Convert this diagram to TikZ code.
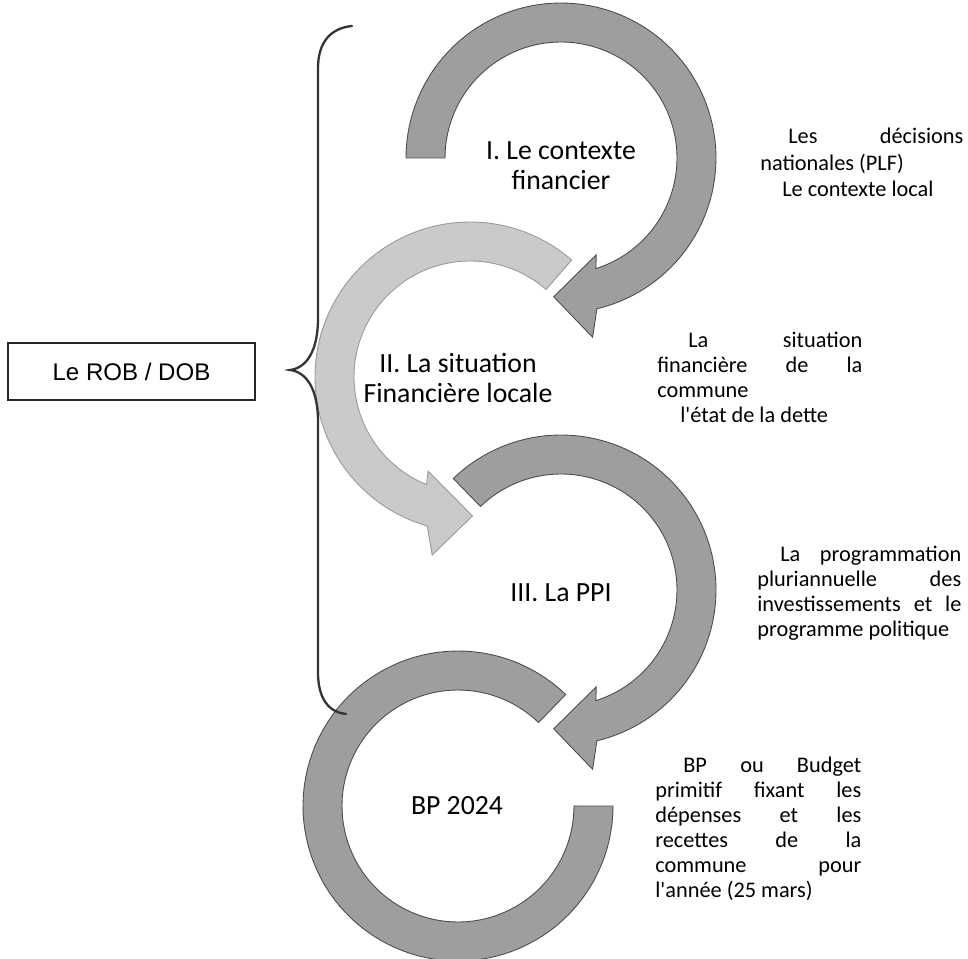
\documentclass[tikz,border=0pt]{standalone}
\usepackage{fontspec}
\setmainfont{Carlito}[Ligatures=TeXOff]
\newfontfamily\arialf{Liberation Sans}
\newdimen\px \px=0.02cm
\definecolor{arrowdark}{RGB}{158,158,158}
\definecolor{arrowlight}{RGB}{202,202,202}
\newcommand\cwring[4]{% center x, center y, start angle, style
  \begin{scope}[shift={(#1,-#2)}]
    \filldraw[#4] plot[domain=#3:-76.6,samples=90] (\x:155) -- (-80:182) -- (-93:139) -- (-70:103)
      -- plot[domain=-72.5:#3,samples=90] (\x:116) -- cycle;
  \end{scope}}
\begin{document}
\begin{tikzpicture}[x=0.02cm, y=0.02cm,
  darkarrow/.style={fill=arrowdark, draw=black!70, line width=0.5pt},
  lightarrow/.style={fill=arrowlight, draw=black!40, line width=0.5pt},
  ringlabel/.style={inner sep=0pt, font=\fontsize{15.8}{17}\selectfont},
  sidetext/.style={inner sep=0pt, anchor=base west, font=\fontsize{12.7}{14.2}\selectfont},
  bracestyle/.style={line width=1.3pt, draw=black!80, line cap=round},
  robbox/.style={draw=black!85, line width=0.6pt, minimum width=4.94cm, minimum height=1.14cm, inner sep=0pt, font=\arialf\fontsize{13.7}{16}\selectfont}]
\fill[white] (0,0) rectangle (968,-959);
\useasboundingbox (0,0) rectangle (968,-959);

% ring 1 (clockwise)
\cwring{561}{158}{180}{darkarrow}
% ring 2 (counter-clockwise, light)
\begin{scope}[shift={(470,-377)}]
  \filldraw[lightarrow] plot[domain=49:254,samples=90] (\x:155) -- (258:182) -- (271:139) -- (246:103)
    -- plot[domain=248:49,samples=90] (\x:116) -- cycle;
\end{scope}
% ring 3 (clockwise)
\cwring{561}{590}{134}{darkarrow}
% ring 4 (no head)
\begin{scope}[shift={(458,-806)}]
  \filldraw[darkarrow] plot[domain=46:360,samples=100] (\x:155)
    -- plot[domain=360:46,samples=100] (\x:116) -- cycle;
\end{scope}

% ring labels
\node[ringlabel, anchor=base] (t1) at (561,-160) {\begin{tabular}[t]{@{}c@{}}I. Le contexte\\financier\end{tabular}};
\node[ringlabel, anchor=base] (t2) at (458,-373) {\begin{tabular}[t]{@{}c@{}}II. La situation\\Financière locale\end{tabular}};
\node[ringlabel, anchor=base] (t3) at (561,-602) {III. La PPI};
\node[ringlabel, anchor=base] (t4) at (457,-815) {BP 2024};

% side texts
\node[sidetext] (dA) at (760,-144) {\parbox[t]{203\px}{\baselineskip=26.5\px
  \hbox to 203\px{\hskip28\px Les\hfill décisions}
  \hbox{nationales (PLF)}
  \hbox{\hskip22\px Le contexte local}}};
\node[sidetext] (dB) at (657,-348) {\parbox[t]{205\px}{\baselineskip=25\px
  \hbox to 205\px{\hskip31\px La\hfill situation}
  \hbox to 205\px{financière\hfill de\hfill la}
  \hbox{commune}
  \hbox{\hskip23\px l'état de la dette}}};
\node[sidetext] (dC) at (757,-562) {\parbox[t]{204\px}{\baselineskip=25\px
  \hbox to 204\px{\hskip23\px La\hfill programmation}
  \hbox to 204\px{pluriannuelle\hfill des}
  \hbox to 204\px{investissements\hfill et\hfill le}
  \hbox{programme politique}}};
\node[sidetext] (dD) at (655,-773) {\parbox[t]{206\px}{\baselineskip=25\px
  \hbox to 206\px{\hskip28\px BP\hfill ou\hfill Budget}
  \hbox to 206\px{primitif\hfill fixant\hfill les}
  \hbox to 206\px{dépenses\hfill et\hfill les}
  \hbox to 206\px{recettes\hfill de\hfill la}
  \hbox to 206\px{commune\hfill pour}
  \hbox{l'année (25 mars)}}};

% left box
\node[robbox] (rob) at (131.5,-371.5) {Le ROB / DOB};

% brace
\coordinate (bracetip) at (290,-370);
\draw[bracestyle] (352,-26) .. controls (331,-28) and (318,-42) .. (318,-68)
  -- (318,-318) .. controls (318,-352) and (306,-368) .. (bracetip)
  .. controls (306,-372) and (318,-388) .. (318,-422)
  -- (318,-672) .. controls (318,-698) and (328,-712) .. (346,-714);
\end{tikzpicture}
\end{document}
